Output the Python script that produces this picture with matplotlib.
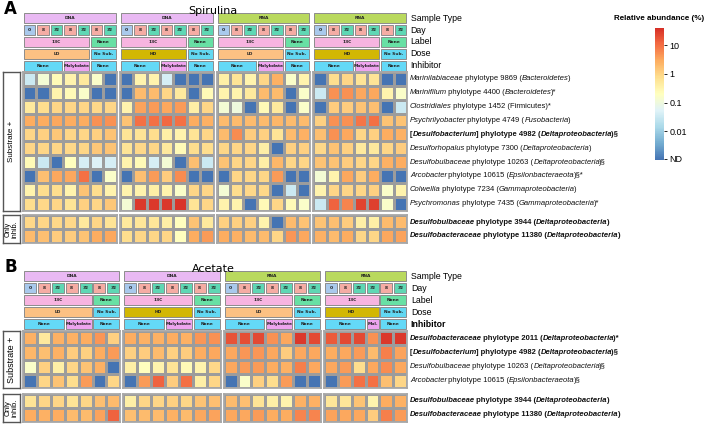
import numpy as np
import matplotlib
matplotlib.use("Agg")
import matplotlib.pyplot as plt
from matplotlib.colors import LinearSegmentedColormap, Normalize
from matplotlib.patches import Rectangle
import matplotlib.cm as cm

plt.rcParams['font.family'] = ['Liberation Sans', 'DejaVu Sans']

W, H = 709, 424
ND = -3.0   # not detected, bottom of the scale (log10 %)

# ---------------- annotation data ----------------
a_types = ["DNA", "DNA", "RNA", "RNA"]
a_days = [["0", "8", "32", "8", "32", "8", "32"]] * 4
a_label = [[("13C", 5), ("None", 2)]] * 4
a_dose = [[("LD", 5), ("No Sub.", 2)], [("HD", 5), ("No Sub.", 2)],
          [("LD", 5), ("No Sub.", 2)], [("HD", 5), ("No Sub.", 2)]]
a_inhib = [[("None", 3), ("Molybdate", 2), ("None", 2)]] * 4

b_types = ["DNA", "DNA", "RNA", "RNA"]
b_days = [["0", "8", "32", "8", "32", "8", "32"]] * 3 + [["0", "8", "32", "32", "8", "32"]]
b_label = [[("13C", 5), ("None", 2)]] * 3 + [[("13C", 4), ("None", 2)]]
b_dose = [[("LD", 5), ("No Sub.", 2)], [("HD", 5), ("No Sub.", 2)],
          [("LD", 5), ("No Sub.", 2)], [("HD", 4), ("No Sub.", 2)]]
b_inhib = [[("None", 3), ("Molybdate", 2), ("None", 2)]] * 3 + \
          [[("None", 3), ("Mol.", 1), ("None", 2)]]

# ---------------- heatmap values (log10 relative abundance %) ----------------
a_sub = [
    [-1.5, -0.9, -0.6, -0.5, -0.3, -0.8, ND,   ND, -0.5, -0.5, -1.4, ND, ND, ND,
     -0.4, -0.2, -0.5, 0.0, 0.4, -0.8, -0.5,   ND, -0.1, 0.0, -0.2, -0.2, ND, ND],
    [ND, ND, -0.5, -0.6, -0.8, ND, ND,   ND, 0.3, 0.3, 0.0, -0.3, ND, -0.6,
     -0.5, -0.5, -0.3, 0.3, 0.3, ND, -0.8,   -1.5, 0.7, 0.7, 0.5, 0.5, -0.5, -0.8],
    [-0.3, -0.1, 0.0, 0.0, 0.0, -0.05, 0.0,   -0.5, 0.55, 0.6, 0.5, 0.6, -0.4, 0.0,
     -0.9, -1.0, ND, -0.6, -0.3, ND, -0.8,   ND, 0.1, 0.1, 0.2, 0.25, ND, -1.5],
    [0.45, 0.45, 0.5, 0.45, 0.45, 0.7, 0.7,   0.2, 1.0, 1.0, 1.05, 1.0, 0.45, 0.4,
     0.3, 0.3, 0.3, 0.3, 0.35, 0.3, 0.3,   0.05, 0.7, 0.7, 0.95, 1.0, 0.2, 0.2],
    [0.0, 0.05, 0.15, 0.0, 0.0, 0.05, 0.2,   -0.2, -0.2, -0.1, -0.4, -0.5, -0.2, 0.0,
     0.3, 0.75, 0.1, 0.05, -0.2, 0.3, 0.4,   0.25, 0.7, 0.5, 0.0, 0.05, 0.45, 0.4],
    [0.0, 0.0, 0.0, -0.05, 0.0, 0.15, 0.2,   -0.2, -0.05, 0.0, -0.3, -0.6, -0.1, -0.1,
     0.0, 0.0, 0.0, -0.4, ND, 0.05, 0.05,   -0.05, 0.2, 0.05, -0.3, -0.3, 0.0, 0.1],
    [-0.6, -1.5, ND, -0.7, -1.4, -1.3, -1.4,   -0.5, -0.6, -1.4, -0.9, ND, 0.25, -1.5,
     0.2, 0.0, 0.0, -0.4, 0.35, 0.0, 0.0,   0.2, 0.2, 0.1, 0.0, 0.0, 0.4, 0.45],
    [ND, 0.25, 0.5, 0.5, 1.0, ND, -0.8,   ND, 0.25, 0.6, 0.1, 0.75, ND, ND,
     ND, 0.0, 0.0, 0.0, 0.6, ND, ND,   -0.9, -0.5, 0.5, 0.1, 0.45, ND, ND],
    [-0.5, -0.1, -0.1, -0.5, 0.2, -0.1, -0.5,   -0.5, -0.5, -0.4, -0.5, -0.8, 0.0, 0.0,
     -0.9, -0.1, -0.05, -0.05, ND, -1.5, ND,   -0.5, 0.0, 0.0, 0.0, 0.05, -0.8, -0.5],
    [-0.1, -0.05, 0.0, -0.2, 0.05, 0.0, 0.15,   -0.9, 1.5, 1.5, 1.5, 1.55, -0.2, 0.0,
     -0.5, -0.5, ND, -0.6, 0.0, -0.6, -0.8,   -1.5, 1.1, 0.8, 1.4, 1.45, -0.8, ND],
]
a_inh = [
    [-0.05, 0.0, -0.05, -0.05, -0.3, 0.0, -0.2,   -0.3, -0.25, -0.25, -0.4, -0.7, 0.2, -0.3,
     0.05, 0.05, 0.05, -0.5, ND, 0.3, 0.2,   0.2, 0.25, 0.1, -0.4, -0.4, 0.3, 0.3],
    [0.3, 0.25, 0.1, 0.1, 0.2, 0.45, 0.5,   -0.1, 0.0, 0.0, 0.0, -0.7, 0.45, 0.6,
     0.45, 0.4, 0.3, 0.3, 0.0, 0.65, 0.5,   0.4, 0.3, 0.45, 0.0, 0.0, 0.5, 0.55],
]
b_sub = [
    [0.4, -0.3, 0.4, 0.4, 0.45, 0.65, 0.05,   0.45, 0.4, 0.4, 0.45, 0.4, 0.65, 0.7,
     1.25, 1.3, 1.35, 0.7, 0.5, 1.5, 1.35,   1.2, 1.35, 1.35, 0.7, 1.5, 1.5],
    [0.35, 0.25, 0.4, 0.1, 0.05, 0.45, 0.6,   0.05, 0.1, 0.3, 0.05, 0.1, 0.45, 0.5,
     0.5, 0.65, 0.65, 0.5, 0.1, 0.5, 0.5,   0.45, 0.5, 0.6, 0.3, 0.85, 0.55],
    [-0.8, 0.05, -0.4, 0.0, 0.2, 0.4, ND,   -0.4, -0.7, -0.5, -0.2, -0.6, -0.5, -0.05,
     0.5, 0.6, 0.6, 0.45, 0.4, 0.85, 0.5,   0.5, 0.6, -0.1, 0.5, 0.75, 0.5],
    [ND, 0.0, 0.2, -0.1, 0.6, ND, 0.0,   ND, 0.6, 1.1, 0.1, 1.0, -0.4, 0.0,
     ND, -0.8, 0.05, -0.1, 0.6, ND, ND,   ND, 0.6, 1.0, 1.0, 0.25, 0.0],
]
b_inh = [
    [-0.2, 0.0, 0.0, -0.2, 0.0, 0.25, 0.3,   -0.4, 0.0, 0.0, 0.05, 0.0, 0.2, 0.25,
     0.3, 0.25, -0.2, -0.4, -0.5, 0.4, 0.4,   -0.25, -0.25, 0.2, -0.5, 0.45, 0.4],
    [0.45, 0.4, 0.45, 0.3, 0.3, 0.55, 1.1,   0.25, 0.3, 0.3, 0.4, 0.3, 0.5, 0.55,
     0.5, 0.5, 0.6, 0.45, 0.45, 0.8, 0.8,   0.55, 0.5, 0.5, 0.1, 0.85, 0.6],
]

# ---------------- row labels: (text, style) with i=italic, b=bold ----------------
a_rows = [
    [("Marinilabiaceae", "i"), (" phylotype 9869 (", ""), ("Bacteroidetes", "i"), (")", "")],
    [("Marinifilum", "i"), (" phylotype 4400 (", ""), ("Bacteroidetes", "i"), (")*", "")],
    [("Clostridiales", "i"), (" phylotype 1452 (Firmicutes)*", "")],
    [("Psychrilyobacter", "i"), (" phylotype 4749 (", ""), ("Fusobacteria", "i"), (")", "")],
    [("[", "b"), ("Desulfobacterium", "bi"), ("] phylotype 4982 (", "b"),
     ("Deltaproteobacteria", "bi"), (")§", "b")],
    [("Desulforhopalus", "i"), (" phylotype 7300 (", ""), ("Deltaproteobacteria", "i"), (")", "")],
    [("Desulfobulbaceae", "i"), (" phylotype 10263 (", ""), ("Deltaproteobacteria", "i"), (")§", "")],
    [("Arcobacter", "i"), (" phylotype 10615 (", ""), ("Epsilonbacteraeota", "i"), (")§*", "")],
    [("Colwellia", "i"), (" phylotype 7234 (", ""), ("Gammaproteobacteria", "i"), (")", "")],
    [("Psychromonas", "i"), (" phylotype 7435 (", ""), ("Gammaproteobacteria", "i"), (")*", "")],
]
a_rows_inh = [
    [("Desulfobulbaceae", "bi"), (" phylotype 3944 (", "b"), ("Deltaproteobacteria", "bi"), (")", "b")],
    [("Desulfobacteraceae", "bi"), (" phylotype 11380 (", "b"), ("Deltaproteobacteria", "bi"), (")", "b")],
]
b_rows = [
    [("Desulfobacteraceae", "bi"), (" phylotype 2011 (", "b"), ("Deltaproteobacteria", "bi"), (")*", "b")],
    [("[", "b"), ("Desulfobacterium", "bi"), ("] phylotype 4982 (", "b"),
     ("Deltaproteobacteria", "bi"), (")§", "b")],
    [("Desulfobulbaceae", "i"), (" phylotype 10263 (", ""), ("Deltaproteobacteria", "i"), (")§", "")],
    [("Arcobacter", "i"), (" phylotype 10615 (", ""), ("Epsilonbacteraeota", "i"), (")§", "")],
]
b_rows_inh = a_rows_inh

ann_names = ["Sample Type", "Day", "Label", "Dose", "Inhibitor"]

type_col = {"DNA": "#e9b9f3", "RNA": "#b9d95e"}
day_col = {"0": "#a9c9ec", "8": "#f5aca4", "32": "#5fd7b4"}
label_col = {"13C": "#f7b4e0", "None": "#68e0a4"}
dose_col = {"LD": "#fcc183", "HD": "#d2b704", "No Sub.": "#62d8f2"}
inhib_col = {"None": "#64d9f7", "Molybdate": "#eea4ef", "Mol.": "#eea4ef"}

base = plt.get_cmap('RdYlBu_r')
cmap = LinearSegmentedColormap.from_list('rdylbu_trunc', base(np.linspace(0.1, 0.9, 256)))
norm = Normalize(-3.0, 1.6)

fig = plt.figure(figsize=(W / 100, H / 100), dpi=100)


def px_ax(x0, y0, x1, y1):
    return fig.add_axes([x0 / W, 1 - y1 / H, (x1 - x0) / W, (y1 - y0) / H])


def draw_heat(ax, vals):
    vals = np.asarray(vals)
    nr, nc = vals.shape
    ax.pcolormesh(np.arange(nc + 1), np.arange(nr + 1), vals, cmap=cmap, norm=norm,
                  edgecolors='#9c9c9c', linewidth=0.8)
    ax.set_xlim(0, nc)
    ax.set_ylim(nr, 0)
    ax.set_xticks([])
    ax.set_yticks([])
    for s in ax.spines.values():
        s.set_color('#a8a8a8')
        s.set_linewidth(1.3)


def draw_ann(ax, rows, nc):
    ax.set_xlim(0, nc)
    ax.set_ylim(len(rows), 0)
    ax.axis('off')
    for r, spans in enumerate(rows):
        c = 0
        for txt, n, col in spans:
            ax.add_patch(Rectangle((c + 0.07, r + 0.07), n - 0.14, 0.83, fc=col,
                                   ec='#8c8c8c', lw=0.7))
            ax.text(c + n / 2, r + 0.5, txt, ha='center', va='center', fontsize=3.2,
                    fontweight='bold', family='DejaVu Sans', color='#222222')
            c += n


def rich(ax, y, parts, size):
    prev = None
    prev_it = False
    for s, st in parts:
        it = 'i' in st
        kw = dict(fontsize=size, fontstyle='italic' if it else 'normal',
                  fontweight='bold' if 'b' in st else 'normal', color='#111111',
                  annotation_clip=False, ha='left')
        if prev is None:
            prev = ax.annotate(s, xy=(1, y), xycoords=ax.get_yaxis_transform(),
                               xytext=(2, 0), textcoords='offset points', va='center', **kw)
        else:
            # italic boxes carry some slant overhang; pull the next piece back a bit
            dx = -0.7 if prev_it and not it else 0
            prev = ax.annotate(s, xy=(1, 0), xycoords=prev, xytext=(dx, 0),
                               textcoords='offset points', va='bottom', **kw)
        prev_it = it


def side_box(y0, y1, text, size):
    ax = px_ax(3, y0, 20, y1)
    ax.set_xticks([])
    ax.set_yticks([])
    for s in ax.spines.values():
        s.set_color('#555555')
        s.set_linewidth(1.0)
    ax.text(0.5, 0.5, text, rotation=90, ha='center', va='center', fontsize=size,
            transform=ax.transAxes, linespacing=0.9)


def draw_panel(letter, title, ytop, cellw, types, days, labels, doses, inhibs,
               sub, inh, rows, rows_inh, sub_y, inh_y, inhib_bold):
    ncols = [len(d) for d in days]
    sub = np.asarray(sub)
    inh = np.asarray(inh)
    x = 23.0
    start = 0
    for g, nc in enumerate(ncols):
        x1 = x + nc * cellw
        ann = px_ax(x, ytop, x1, ytop + 5 * 11.9)
        spans = [
            [(types[g], nc, type_col[types[g]])],
            [(d, 1, day_col[d]) for d in days[g]],
            [(t, n, label_col[t]) for t, n in labels[g]],
            [(t, n, dose_col[t]) for t, n in doses[g]],
            [(t, n, inhib_col[t]) for t, n in inhibs[g]],
        ]
        draw_ann(ann, spans, nc)
        hs = px_ax(x, sub_y[0], x1, sub_y[1])
        draw_heat(hs, sub[:, start:start + nc])
        hi = px_ax(x, inh_y[0], x1, inh_y[1])
        draw_heat(hi, inh[:, start:start + nc])
        start += nc
        x = x1 + 3.0
    # labels on the right of the last group
    for r, name in enumerate(ann_names):
        bold = inhib_bold and name == "Inhibitor"
        ann.annotate(name, xy=(1, r + 0.5), xycoords=ann.get_yaxis_transform(),
                     xytext=(2.5, 0), textcoords='offset points', va='center', ha='left',
                     fontsize=6.3, fontweight='bold' if bold else 'normal',
                     annotation_clip=False)
    for i, parts in enumerate(rows):
        rich(hs, i + 0.5, parts, 5.5)
    for i, parts in enumerate(rows_inh):
        rich(hi, i + 0.5, parts, 5.5)
    fig.text(4 / W, 1 - (ytop - 3) / H, letter, fontsize=12, fontweight='bold',
             family='DejaVu Sans', va='center', ha='left')
    fig.text(213 / W, 1 - (ytop - 1.5) / H, title, fontsize=8, family='DejaVu Sans',
             va='center', ha='center')


draw_panel("A", "Spirulina", 12.2, 13.4, a_types, a_days, a_label, a_dose, a_inhib,
           a_sub, a_inh, a_rows, a_rows_inh, (72, 210.5), (215, 243), False)
draw_panel("B", "Acetate", 270.5, 13.9, b_types, b_days, b_label, b_dose, b_inhib,
           b_sub, b_inh, b_rows, b_rows_inh, (331, 388), (394, 422), True)

side_box(72, 210.5, "Substrate +", 5.8)
side_box(215, 243, "Only\ninhib.", 5.3)
side_box(331, 388, "Substrate +", 6.5)
side_box(394, 422, "Only\ninhib.", 5.5)

# colour bar
cax = px_ax(655, 28, 664, 160)
cb = fig.colorbar(cm.ScalarMappable(norm=norm, cmap=cmap), cax=cax)
cb.set_ticks([1, 0, -1, -2, -2.95])
cb.set_ticklabels(['10', '1', '0.1', '0.01', 'ND'])
cb.outline.set_visible(False)
cax.tick_params(length=2, width=0.6, labelsize=6.5, pad=2)
cax.set_title('Relative abundance (%)', fontsize=5.8, fontweight='bold', pad=6)

fig.savefig('out.png', dpi=100)
